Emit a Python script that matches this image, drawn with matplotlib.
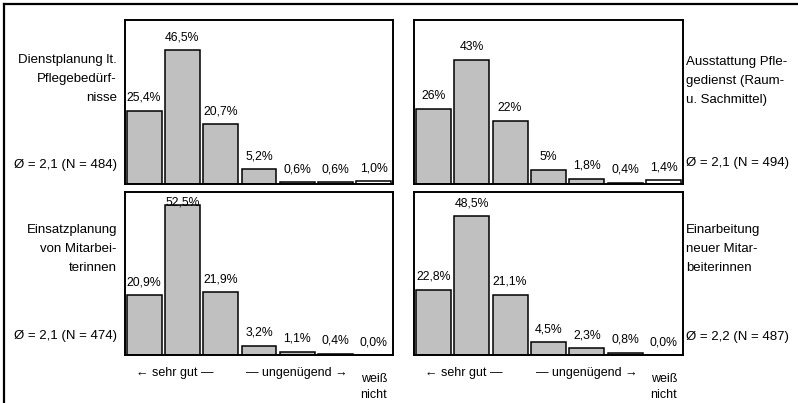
import matplotlib
matplotlib.use("Agg")
import matplotlib.pyplot as plt
from matplotlib.lines import Line2D

plt.rcParams["font.family"] = ["Liberation Sans", "DejaVu Sans"]

W, H = 798, 403

# rating categories: 1..6 plus "weiß nicht"
categories = ["1", "2", "3", "4", "5", "6", "weiß nicht"]

titles = [
    "Dienstplanung lt.\nPflegebedürf-\nnisse",
    "Ausstattung Pfle-\ngedienst (Raum-\nu. Sachmittel)",
    "Einsatzplanung\nvon Mitarbei-\nterinnen",
    "Einarbeitung\nneuer Mitar-\nbeiterinnen",
]
summaries = [
    "Ø = 2,1 (N = 484)",
    "Ø = 2,1 (N = 494)",
    "Ø = 2,1 (N = 474)",
    "Ø = 2,2 (N = 487)",
]

dienstplanung = [25.4, 46.5, 20.7, 5.2, 0.6, 0.6, 1.0]
ausstattung = [26, 43, 22, 5, 1.8, 0.4, 1.4]
einsatzplanung = [20.9, 52.5, 21.9, 3.2, 1.1, 0.4, 0.0]
einarbeitung = [22.8, 48.5, 21.1, 4.5, 2.3, 0.8, 0.0]
series = [dienstplanung, ausstattung, einsatzplanung, einarbeitung]
label_formats = ["{:.1f}", "{:g}", "{:.1f}", "{:.1f}"]

axis_notes = ["← sehr gut —", "— ungenügend →", "weiß\nnicht"]

# panel boxes in pixels: (x0, y0_top, x1, y1_bottom)
boxes = [
    (125, 20, 393, 184),
    (414, 20, 683, 184),
    (125, 192, 393, 355),
    (414, 192, 683, 355),
]
title_y = [79, 81, 249, 249]
summary_y = [165, 163, 336, 337]

fig = plt.figure(figsize=(W / 100, H / 100), dpi=100)

# outer frame (top and left edges visible)
fig.add_artist(Line2D([4 / W, 4 / W], [0, 1 - 4 / H], color="black", lw=1.6,
                      transform=fig.transFigure))
fig.add_artist(Line2D([4 / W, 1], [1 - 4 / H, 1 - 4 / H], color="black", lw=1.6,
                      transform=fig.transFigure))

YMAX = 57
for i, (box, vals) in enumerate(zip(boxes, series)):
    x0, y0, x1, y1 = box
    ax = fig.add_axes([x0 / W, 1 - y1 / H, (x1 - x0) / W, (y1 - y0) / H])
    xs = list(range(len(categories)))
    colors = ["#c0c0c0"] * 6 + ["white"]
    ax.bar(xs, vals, width=0.91, color=colors, edgecolor="black", linewidth=1.1)
    ax.set_xlim(-0.5, 6.5)
    ax.set_ylim(0, YMAX)
    ax.set_xticks([])
    ax.set_yticks([])
    for sp in ax.spines.values():
        sp.set_linewidth(1.4)
    for x, v in zip(xs, vals):
        txt = label_formats[i].format(v).replace(".", ",") + "%"
        y = min(v + 4.5, YMAX - 3.8)
        ax.text(x, y, txt, ha="center", va="center", fontsize=8.8)

    left_side = i % 2 == 0
    tx = (117 if left_side else 686) / W
    ha = "right" if left_side else "left"
    fig.text(tx, 1 - title_y[i] / H, titles[i], ha=ha, va="center",
             fontsize=9.5, linespacing=1.75, multialignment=ha)
    fig.text(tx, 1 - summary_y[i] / H, summaries[i], ha=ha, va="center",
             fontsize=9.5)

    if i >= 2:
        ax.text(0.8, -0.11, axis_notes[0], transform=ax.get_xaxis_transform(),
                ha="center", va="center", fontsize=9)
        ax.text(4.0, -0.11, axis_notes[1], transform=ax.get_xaxis_transform(),
                ha="center", va="center", fontsize=9)
        ax.text(6.0, -0.11, axis_notes[2], transform=ax.get_xaxis_transform(),
                ha="center", va="top", fontsize=9, linespacing=1.5)

fig.savefig("out.png", dpi=100)
